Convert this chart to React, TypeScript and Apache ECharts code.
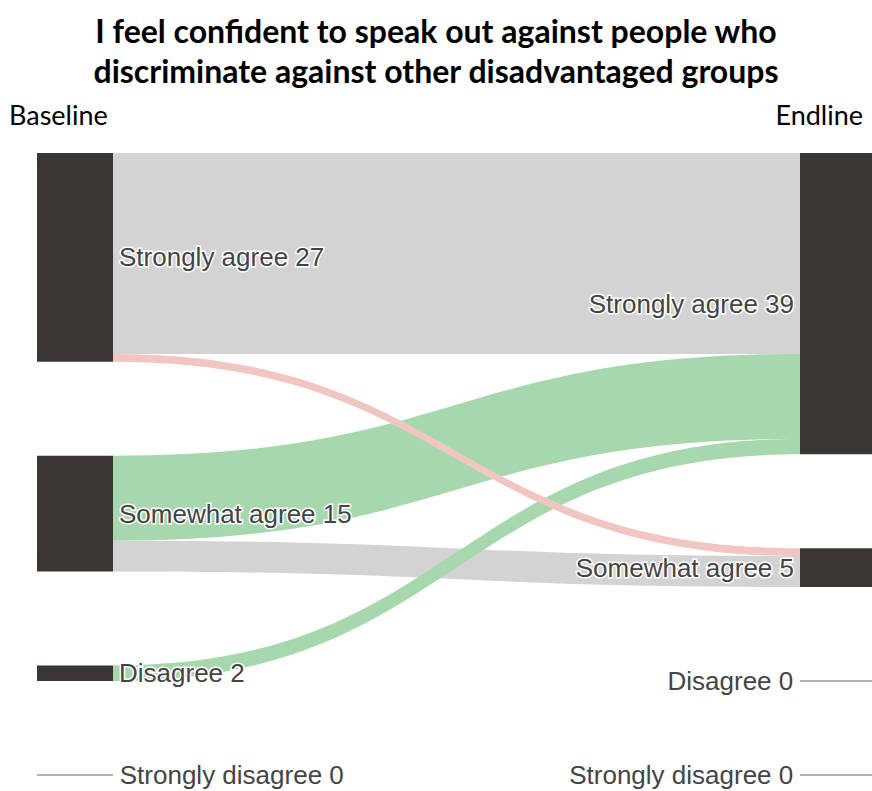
import React, { useEffect, useRef } from "react";
import * as echarts from "echarts";

const titleLines = [
  "I feel confident to speak out against people who",
  "discriminate against other disadvantaged groups",
];
const categories = ["Strongly agree", "Somewhat agree", "Disagree", "Strongly disagree"];
const baselineCounts = [27, 15, 2, 0];
const endlineCounts = [39, 5, 0, 0];
// [from baseline category index, to endline category index, count]
const flows: [number, number, number][] = [
  [0, 0, 26],
  [1, 1, 4],
  [1, 0, 11],
  [2, 0, 2],
  [0, 1, 1],
];

const NODE_COLOR = "#3a3634";
const SAME_COLOR = "#d3d3d3";
const UP_COLOR = "#a6d7ad";
const DOWN_COLOR = "#f1c6c2";
const LABEL_FONT = "'Liberation Sans', Arial, sans-serif";
const TITLE_FONT = "Lato, 'Open Sans', sans-serif";

export default function App() {
  const ref = useRef<HTMLDivElement>(null);
  useEffect(() => {
    if (!ref.current) return;
    const chart = echarts.init(ref.current, null, { renderer: "svg" });

    const labelBase = {
      show: true,
      fontFamily: LABEL_FONT,
      fontSize: 26,
      color: "#444",
      textBorderColor: "#fff",
      textBorderWidth: 3,
      distance: 6,
    };

    const nodes: any[] = [];
    categories.forEach((c, i) => {
      const v = baselineCounts[i];
      nodes.push({
        name: "B:" + c,
        value: v,
        depth: 0,
        itemStyle:
          v === 0
            ? { color: "transparent", borderColor: "#9a9a9a", borderWidth: 1.5 }
            : { color: NODE_COLOR, borderWidth: 0 },
        label: { ...labelBase, position: "right", formatter: `${c} ${v}` },
      });
    });
    categories.forEach((c, i) => {
      const v = endlineCounts[i];
      nodes.push({
        name: "E:" + c,
        value: v,
        depth: 1,
        itemStyle:
          v === 0
            ? { color: "transparent", borderColor: "#9a9a9a", borderWidth: 1.5 }
            : { color: NODE_COLOR, borderWidth: 0 },
        label: { ...labelBase, position: "left", formatter: `${c} ${v}` },
      });
    });

    const links = flows.map(([f, t, v]) => ({
      source: "B:" + categories[f],
      target: "E:" + categories[t],
      value: v,
      lineStyle: {
        color: f === t ? SAME_COLOR : t < f ? UP_COLOR : DOWN_COLOR,
        opacity: 1,
      },
    }));

    chart.setOption({
      animation: false,
      backgroundColor: "#fff",
      title: [
        {
          text: titleLines.join("\n"),
          left: "center",
          top: 5,
          textStyle: {
            fontFamily: TITLE_FONT,
            fontWeight: "bold",
            fontSize: 32,
            lineHeight: 40,
            color: "#000",
          },
        },
        {
          text: "Baseline",
          left: 4,
          top: 96,
          textStyle: { fontFamily: TITLE_FONT, fontWeight: "normal", fontSize: 27, color: "#000" },
        },
        {
          text: "Endline",
          right: 4,
          top: 96,
          textStyle: { fontFamily: TITLE_FONT, fontWeight: "normal", fontSize: 27, color: "#000" },
        },
      ],
      series: [
        {
          type: "sankey",
          left: 37,
          right: -4,
          top: 153,
          bottom: 16,
          nodeWidth: 76,
          nodeGap: 94,
          layoutIterations: 0,
          nodeAlign: "justify",
          draggable: false,
          emphasis: { disabled: true },
          data: nodes,
          links,
          lineStyle: { curveness: 0.5, opacity: 1 },
        },
      ],
    });
    return () => chart.dispose();
  }, []);
  return (
    <div
      ref={ref}
      style={{ position: "absolute", left: 0, top: 0, width: 872, height: 791 }}
    />
  );
}
